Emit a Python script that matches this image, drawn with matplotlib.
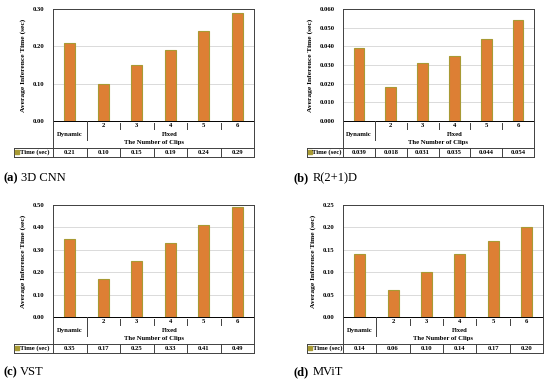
import numpy as np
import matplotlib
matplotlib.use("Agg")
import matplotlib.pyplot as plt

plt.rcParams['font.family'] = ['Liberation Serif', 'DejaVu Serif']

categories = ["Dynamic", "2", "3", "4", "5", "6"]

times_3dcnn = [0.21, 0.10, 0.15, 0.19, 0.24, 0.29]
times_r21d = [0.039, 0.018, 0.031, 0.035, 0.044, 0.054]
times_vst = [0.35, 0.17, 0.25, 0.33, 0.41, 0.49]
times_mvit = [0.14, 0.06, 0.10, 0.14, 0.17, 0.20]

labels_3dcnn = ["0.21", "0.10", "0.15", "0.19", "0.24", "0.29"]
labels_r21d = ["0.039", "0.018", "0.031", "0.035", "0.044", "0.054"]
labels_vst = ["0.35", "0.17", "0.25", "0.33", "0.41", "0.49"]
labels_mvit = ["0.14", "0.06", "0.10", "0.14", "0.17", "0.20"]

BAR = '#DD7F34'
EDGE = '#A89A34'
W, H = 550, 385
FS = 4.8

fig = plt.figure(figsize=(5.5, 3.85), dpi=100)


def px_axes(left, top, right, bottom):
    return fig.add_axes([left / W, 1 - bottom / H, (right - left) / W, (bottom - top) / H])


def draw_panel(box, legend_left, vals, labels, ymax, step, fmt, tag, name, cap_xy):
    left, top, right, bottom, tbot = box
    ax = px_axes(left, top, right, bottom)
    x = np.arange(len(categories))
    ax.bar(x, vals, width=0.33, color=BAR, edgecolor=EDGE, linewidth=0.8, zorder=3)
    ax.set_xlim(-0.5, len(categories) - 0.5)
    ax.set_ylim(0, ymax)
    yt = np.arange(0, ymax + step / 2, step)
    ax.set_yticks(yt)
    ax.set_yticklabels([fmt.format(v) for v in yt], fontsize=FS, fontweight='bold')
    ax.tick_params(axis='y', length=0, pad=6)
    ax.set_xticks([])
    ax.grid(axis='y', color='#D4D4D4', linewidth=0.6, zorder=0)
    for s in ax.spines.values():
        s.set_color('#404040')
        s.set_linewidth(0.7)
    ax.spines['bottom'].set_color('black')
    ax.set_ylabel("Average Inference Time (sec)", fontsize=5.4, fontweight='bold', labelpad=5)

    # category labels and data table below
    h = tbot - bottom
    lo = px_axes(left, bottom, right, tbot)
    lo.set_xlim(-0.5, len(categories) - 0.5)
    lo.set_ylim(h, 0)
    lo.axis('off')
    cw = (right - left) / len(categories)
    lx = -0.5 - (left - legend_left) / cw
    k = dict(color='#404040', linewidth=0.7, clip_on=False)
    lo.plot([-0.5, -0.5], [0, h], **k)
    lo.plot([5.5, 5.5], [0, h], **k)
    lo.plot([0.5, 0.5], [0, h - 17], **k)
    for b in np.arange(1.5, 5, 1):
        lo.plot([b, b], [1.5, 7.5], **k)
    for i, c in enumerate(categories[1:], start=1):
        lo.text(i, 4.5, c, ha='center', va='center', fontsize=FS, fontweight='bold')
    lo.text(0, 13.5, categories[0], ha='center', va='center', fontsize=FS, fontweight='bold')
    lo.text(3, 13.5, "Fixed", ha='center', va='center', fontsize=FS, fontweight='bold')
    lo.text(2.5, 21.5, "The Number of Clips", ha='center', va='center', fontsize=FS, fontweight='bold')
    t0, t1 = h - 9.5, h
    lo.plot([lx, 5.5], [t0, t0], **k)
    lo.plot([lx, 5.5], [t1, t1], **k)
    lo.plot([lx, lx], [t0, t1], **k)
    for b in np.arange(0.5, 5, 1):
        lo.plot([b, b], [t0, t1], **k)
    for i, lab in enumerate(labels):
        lo.text(i, (t0 + t1) / 2, lab, ha='center', va='center', fontsize=FS, fontweight='bold')
    lo.plot([lx + 0.08], [(t0 + t1) / 2], marker='s', markersize=2.2, color=EDGE, clip_on=False)
    lo.text(lx + 0.17, (t0 + t1) / 2, "Time (sec)", ha='left', va='center', fontsize=FS, fontweight='bold')

    t = fig.text(cap_xy[0] / W, 1 - cap_xy[1] / H, tag, fontsize=9, fontweight='bold', va='center')
    ax.annotate(name, xy=(1, 0.5), xycoords=t, xytext=(2.5, 0), textcoords='offset points',
                va='center', fontsize=9)


draw_panel((53, 9, 254, 121, 157), 14, times_3dcnn, labels_3dcnn, 0.30, 0.10, "{:.2f}",
           "(a)", "3D CNN", (3, 178))
draw_panel((343, 9, 534, 121, 157), 307, times_r21d, labels_r21d, 0.060, 0.010, "{:.3f}",
           "(b)", "R(2+1)D", (294, 178))
draw_panel((53, 205, 254, 317, 353), 14, times_vst, labels_vst, 0.50, 0.10, "{:.2f}",
           "(c)", "VST", (3, 372))
draw_panel((343, 205, 543, 317, 353), 307, times_mvit, labels_mvit, 0.25, 0.05, "{:.2f}",
           "(d)", "MViT", (294, 372))

fig.savefig("out.png", dpi=100)
